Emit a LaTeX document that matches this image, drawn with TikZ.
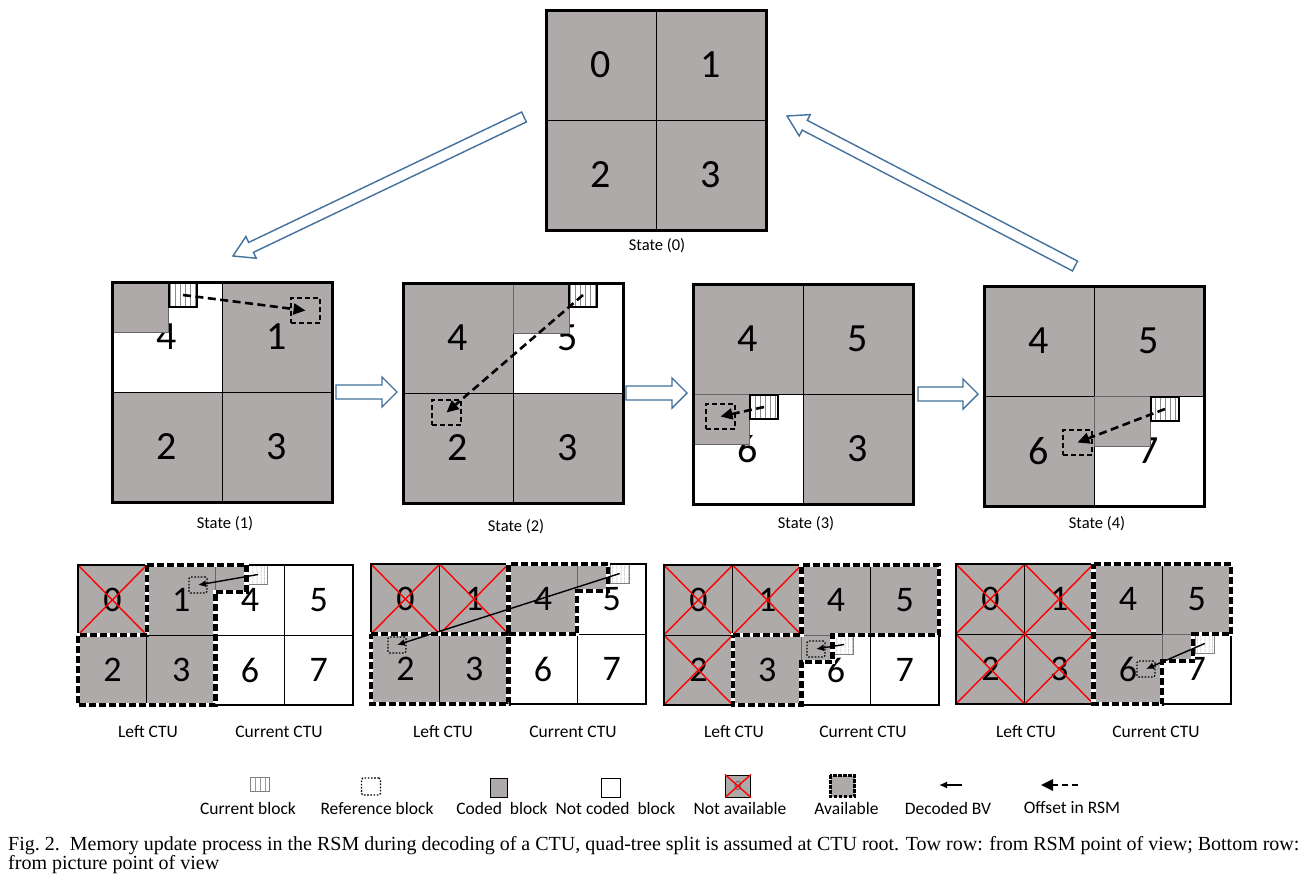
\documentclass[tikz,border=0pt]{standalone}
\usepackage{fontspec}
\setmainfont{Carlito}
\newfontfamily\capfont{Liberation Serif}
\usetikzlibrary{calc,arrows.meta,patterns.meta}
\definecolor{codedgray}{RGB}{174,170,170}
\definecolor{arrowblue}{RGB}{65,113,156}
\newcommand\hollowarrow[6]{%
  \coordinate (#6b) at ($(#1)!#3!(#2)$);
  \draw[hollow] (#1) -- ($(#6b)!#4!90:(#2)$) -- ($(#6b)!#5!90:(#2)$) -- ($(#2)!#5!-90:(#6b)$) -- ($(#2)!#5!90:(#6b)$) -- ($(#6b)!#5!-90:(#2)$) -- ($(#6b)!#4!-90:(#2)$) -- cycle;}
\begin{document}
\begin{tikzpicture}[x=1pt,y=-1pt,
  topcell/.style={draw=black,line width=1pt,minimum width=110pt,minimum height=110pt,anchor=north west,inner sep=0pt,outer sep=0pt,font=\fontsize{40}{40}\selectfont},
  botcell/.style={draw=black,line width=1pt,minimum width=68.75pt,minimum height=70pt,anchor=north west,inner sep=0pt,outer sep=0pt,font=\fontsize{36}{36}\selectfont},
  coded/.style={fill=codedgray},
  uncoded/.style={fill=white},
  graytop/.style={fill=codedgray,draw=black!60,line width=0.8pt,anchor=north west,inner sep=0pt,outer sep=0pt,minimum width=56pt,minimum height=50pt},
  graybot/.style={fill=codedgray,draw=black!60,line width=0.8pt,anchor=north west,inner sep=0pt,outer sep=0pt,minimum width=31pt,minimum height=27pt},
  curtop/.style={draw=black,line width=2.4pt,fill=white,pattern={Lines[angle=90,distance=5pt,line width=0.7pt]},pattern color=black!45,anchor=north west,inner sep=0pt,outer sep=0pt,minimum width=28pt,minimum height=24pt},
  reftop/.style={draw=black,line width=1.5pt,dash pattern=on 5pt off 3pt,anchor=north west,inner sep=0pt,outer sep=0pt,minimum width=29pt,minimum height=25pt},
  curbot/.style={draw=black!50,line width=0.8pt,fill=white,pattern={Lines[angle=90,distance=4pt,line width=0.6pt]},pattern color=black!40,anchor=north west,inner sep=0pt,outer sep=0pt,minimum width=19pt,minimum height=19pt},
  refbot/.style={draw=black,line width=1.3pt,dash pattern=on 1.6pt off 1.6pt,rounded corners=1.5pt,anchor=north west,inner sep=0pt,outer sep=0pt,minimum width=18pt,minimum height=16pt},
  offset/.style={line width=2.6pt,dash pattern=on 8pt off 4.5pt,-{Triangle[length=12pt,width=11pt]}},
  bv/.style={line width=1.4pt,-{Latex[length=8pt,width=7pt]}},
  redx/.style={draw=red,line width=1.4pt},
  outerbox/.style={draw=black,line width=3pt},
  panelbox/.style={draw=black,line width=2.6pt},
  avail/.style={preaction={draw=white,solid,line width=4.4pt},draw=black,line width=4.4pt,dash pattern=on 7pt off 3pt},
  hollow/.style={draw=arrowblue,fill=white,line width=1.4pt,line join=miter},
  lab/.style={font=\fontsize{16.5}{18}\selectfont,inner sep=0pt},
  ctulab/.style={font=\fontsize{17.5}{19}\selectfont,inner sep=0pt},
  legtext/.style={font=\fontsize{17.5}{19}\selectfont,inner sep=0pt},
  captext/.style={font=\capfont\fontsize{20}{22}\selectfont,inner sep=0pt,anchor=base west}
]
\useasboundingbox (0,0) rectangle (1315,878);
\fill[white] (0,0) rectangle (1315,878);

% ---------- State (0)
\node[topcell,coded] (s0q0) at (546,10) {0};
\node[topcell,coded] (s0q1) at (656,10) {1};
\node[topcell,coded] (s0q2) at (546,120) {2};
\node[topcell,coded] (s0q3) at (656,120) {3};
\draw[outerbox] (s0q0.north west) rectangle (s0q3.south east);
\node[lab] (s0lab) at (657,246) {State (0)};

% ---------- State (1)
\node[topcell,uncoded] (s1q0) at (112,282) {4};
\node[topcell,coded] (s1q1) at (222,282) {1};
\node[topcell,coded] (s1q2) at (112,392) {2};
\node[topcell,coded] (s1q3) at (222,392) {3};
\node[graytop] (s1g) at (112,282) {};
\node[curtop] (s1c) at (169,283) {};
\node[reftop] (s1r) at (291,298) {};
\draw[offset] (s1c.center) -- (s1r.center);
\draw[outerbox] (s1q0.north west) rectangle (s1q3.south east);
\node[lab] (s1lab) at (225,524) {State (1)};

% ---------- State (2)
\node[topcell,coded] (s2q0) at (403,283) {4};
\node[topcell,uncoded] (s2q1) at (513,283) {5};
\node[topcell,coded] (s2q2) at (403,393) {2};
\node[topcell,coded] (s2q3) at (513,393) {3};
\node[graytop] (s2g) at (513,283) {};
\node[curtop] (s2c) at (569,283) {};
\node[reftop] (s2r) at (432,400) {};
\draw[offset] (s2c.center) -- (s2r.center);
\draw[outerbox] (s2q0.north west) rectangle (s2q3.south east);
\node[lab] (s2lab) at (516,527) {State (2)};

% ---------- State (3)
\node[topcell,coded] (s3q0) at (693,284) {4};
\node[topcell,coded] (s3q1) at (803,284) {5};
\node[topcell,uncoded] (s3q2) at (693,394) {6};
\node[topcell,coded] (s3q3) at (803,394) {3};
\node[graytop] (s3g) at (693,394) {};
\node[curtop] (s3c) at (750,395) {};
\node[reftop] (s3r) at (706,404) {};
\draw[offset] (s3c.center) -- (s3r.center);
\draw[outerbox] (s3q0.north west) rectangle (s3q3.south east);
\node[lab] (s3lab) at (806,524) {State (3)};

% ---------- State (4)
\node[topcell,coded] (s4q0) at (984,286) {4};
\node[topcell,coded] (s4q1) at (1094,286) {5};
\node[topcell,coded] (s4q2) at (984,396) {6};
\node[topcell,uncoded] (s4q3) at (1094,396) {7};
\node[graytop] (s4g) at (1094,396) {};
\node[curtop] (s4c) at (1151,397) {};
\node[reftop] (s4r) at (1063,430) {};
\draw[offset] (s4c.center) -- (s4r.center);
\draw[outerbox] (s4q0.north west) rectangle (s4q3.south east);
\node[lab] (s4lab) at (1097,524) {State (4)};

% ---------- hollow arrows
\coordinate (ha1tail) at (336,392); \coordinate (ha1tip) at (397,392);
\hollowarrow{ha1tip}{ha1tail}{15pt}{15pt}{7pt}{ha1}
\coordinate (ha2tail) at (626,393); \coordinate (ha2tip) at (687,393);
\hollowarrow{ha2tip}{ha2tail}{15pt}{15pt}{7pt}{ha2}
\coordinate (ha3tail) at (918,394); \coordinate (ha3tip) at (978,394);
\hollowarrow{ha3tip}{ha3tail}{15pt}{15pt}{7pt}{ha3}
\coordinate (da1tail) at (524,117); \coordinate (da1tip) at (233,256);
\hollowarrow{da1tip}{da1tail}{20pt}{12pt}{5.5pt}{da1}
\coordinate (da2tail) at (1075,266); \coordinate (da2tip) at (787,116);
\hollowarrow{da2tip}{da2tail}{20pt}{12pt}{5.5pt}{da2}

% ---------- Panel 1
\begin{scope}[shift={(78,565)}]
\node[botcell,coded] (p1c0) at (0,0) {0};
\node[botcell,coded] (p1c1) at (68.75,0) {1};
\node[botcell,uncoded] (p1c4) at (137.5,0) {4};
\node[botcell,uncoded] (p1c5) at (206.25,0) {5};
\node[botcell,coded] (p1c2) at (0,70) {2};
\node[botcell,coded] (p1c3) at (68.75,70) {3};
\node[botcell,uncoded] (p1c6) at (137.5,70) {6};
\node[botcell,uncoded] (p1c7) at (206.25,70) {7};
\draw[redx] (p1c0.north west) -- (p1c0.south east) (p1c0.north east) -- (p1c0.south west);
\node[graybot] (p1g) at (137.5,0) {};
\node[curbot] (p1k) at (170.5,0) {};
\node[refbot] (p1r) at (111,12) {};
\draw[panelbox] (p1c0.north west) rectangle (p1c7.south east);
\draw[avail] (68.75,0) -- (168.5,0) -- (168.5,27) -- (137.5,27) -- (137.5,140) -- (0,140) -- (0,70) -- (68.75,70) -- cycle;
\draw[bv] (p1k.center) -- (p1r.center);
\node[ctulab] (p1left) at (70,167) {Left CTU};
\node[ctulab] (p1curr) at (201,167) {Current CTU};
\end{scope}

% ---------- Panel 2
\begin{scope}[shift={(371,564)}]
\node[botcell,coded] (p2c0) at (0,0) {0};
\node[botcell,coded] (p2c1) at (68.75,0) {1};
\node[botcell,coded] (p2c4) at (137.5,0) {4};
\node[botcell,uncoded] (p2c5) at (206.25,0) {5};
\node[botcell,coded] (p2c2) at (0,70) {2};
\node[botcell,coded] (p2c3) at (68.75,70) {3};
\node[botcell,uncoded] (p2c6) at (137.5,70) {6};
\node[botcell,uncoded] (p2c7) at (206.25,70) {7};
\draw[redx] (p2c0.north west) -- (p2c0.south east) (p2c0.north east) -- (p2c0.south west);
\draw[redx] (p2c1.north west) -- (p2c1.south east) (p2c1.north east) -- (p2c1.south west);
\node[graybot] (p2g) at (206.25,0) {};
\node[curbot] (p2k) at (239.25,0) {};
\node[refbot] (p2r) at (17,73) {};
\draw[panelbox] (p2c0.north west) rectangle (p2c7.south east);
\draw[avail] (0,70) -- (137.5,70) -- (137.5,0) -- (237.25,0) -- (237.25,27) -- (206.25,27) -- (206.25,70) -- (137.5,70) -- (137.5,140) -- (0,140) -- cycle;
\draw[bv] (p2k.center) -- (p2r.center);
\node[ctulab] (p2left) at (72,168) {Left CTU};
\node[ctulab] (p2curr) at (202,168) {Current CTU};
\end{scope}

% ---------- Panel 3
\begin{scope}[shift={(664,565)}]
\node[botcell,coded] (p3c0) at (0,0) {0};
\node[botcell,coded] (p3c1) at (68.75,0) {1};
\node[botcell,coded] (p3c4) at (137.5,0) {4};
\node[botcell,coded] (p3c5) at (206.25,0) {5};
\node[botcell,coded] (p3c2) at (0,70) {2};
\node[botcell,coded] (p3c3) at (68.75,70) {3};
\node[botcell,uncoded] (p3c6) at (137.5,70) {6};
\node[botcell,uncoded] (p3c7) at (206.25,70) {7};
\draw[redx] (p3c0.north west) -- (p3c0.south east) (p3c0.north east) -- (p3c0.south west);
\draw[redx] (p3c1.north west) -- (p3c1.south east) (p3c1.north east) -- (p3c1.south west);
\draw[redx] (p3c2.north west) -- (p3c2.south east) (p3c2.north east) -- (p3c2.south west);
\node[graybot] (p3g) at (137.5,70) {};
\node[curbot] (p3k) at (170.5,70) {};
\node[refbot] (p3r) at (143,76) {};
\draw[panelbox] (p3c0.north west) rectangle (p3c7.south east);
\draw[avail] (68.75,70) -- (137.5,70) -- (137.5,0) -- (275,0) -- (275,70) -- (168.5,70) -- (168.5,97) -- (137.5,97) -- (137.5,140) -- (68.75,140) -- cycle;
\draw[bv] (p3k.center) -- (p3r.center);
\node[ctulab] (p3left) at (70,167) {Left CTU};
\node[ctulab] (p3curr) at (199,167) {Current CTU};
\end{scope}

% ---------- Panel 4
\begin{scope}[shift={(956,564)}]
\node[botcell,coded] (p4c0) at (0,0) {0};
\node[botcell,coded] (p4c1) at (68.75,0) {1};
\node[botcell,coded] (p4c4) at (137.5,0) {4};
\node[botcell,coded] (p4c5) at (206.25,0) {5};
\node[botcell,coded] (p4c2) at (0,70) {2};
\node[botcell,coded] (p4c3) at (68.75,70) {3};
\node[botcell,coded] (p4c6) at (137.5,70) {6};
\node[botcell,uncoded] (p4c7) at (206.25,70) {7};
\draw[redx] (p4c0.north west) -- (p4c0.south east) (p4c0.north east) -- (p4c0.south west);
\draw[redx] (p4c1.north west) -- (p4c1.south east) (p4c1.north east) -- (p4c1.south west);
\draw[redx] (p4c2.north west) -- (p4c2.south east) (p4c2.north east) -- (p4c2.south west);
\draw[redx] (p4c3.north west) -- (p4c3.south east) (p4c3.north east) -- (p4c3.south west);
\node[graybot] (p4g) at (206.25,70) {};
\node[curbot] (p4k) at (239.25,70) {};
\node[refbot] (p4r) at (181,97) {};
\draw[panelbox] (p4c0.north west) rectangle (p4c7.south east);
\draw[avail] (137.5,0) -- (275,0) -- (275,70) -- (237.25,70) -- (237.25,97) -- (206.25,97) -- (206.25,140) -- (137.5,140) -- cycle;
\draw[bv] (p4k.center) -- (p4r.center);
\node[ctulab] (p4left) at (70,168) {Left CTU};
\node[ctulab] (p4curr) at (200,168) {Current CTU};
\end{scope}

% ---------- Legend
\node[curbot,anchor=center,minimum width=19pt,minimum height=14pt,pattern={Lines[angle=90,distance=5pt,line width=0.6pt]}] (lgcur) at (259.5,784.5) {};
\node[refbot,anchor=center,minimum width=19pt,minimum height=17pt] (lgref) at (371,786.5) {};
\node[draw=black,line width=1pt,fill=codedgray,minimum width=17pt,minimum height=19pt,inner sep=0pt] (lgcoded) at (498.5,787.5) {};
\node[draw=black,line width=1pt,fill=white,minimum width=19pt,minimum height=19pt,inner sep=0pt] (lgnot) at (610.5,787.5) {};
\node[draw=black,line width=1pt,fill=codedgray,minimum width=25pt,minimum height=22pt,inner sep=0pt,font=\fontsize{14}{14}\selectfont,text=black!60] (lgna) at (738,786) {0};
\draw[redx] (lgna.north west) -- (lgna.south east) (lgna.north east) -- (lgna.south west);
\node[fill=codedgray,minimum width=24pt,minimum height=21pt,inner sep=0pt] (lgav) at (842.5,786) {};
\draw[draw=black,line width=2.6pt,dash pattern=on 3.5pt off 1.5pt] (lgav.north west) rectangle (lgav.south east);
\coordinate (lgbv1) at (962,785); \coordinate (lgbv2) at (939,785);
\draw[bv] (lgbv1) -- (lgbv2);
\coordinate (lgoff1) at (1078,785); \coordinate (lgoff2) at (1041,785);
\draw[offset,dash pattern=on 6pt off 4pt] (lgoff1) -- (lgoff2);

\node[legtext] (lt1) at (248,808) {Current block};
\node[legtext] (lt2) at (377,808) {Reference block};
\node[legtext] (lt3) at (502,808) {Coded\ \ block};
\node[legtext] (lt4) at (615.5,808) {Not coded\ \ block};
\node[legtext] (lt5) at (740,808) {Not available};
\node[legtext] (lt6) at (846.5,808) {Available};
\node[legtext] (lt7) at (948,808) {Decoded BV};
\node[legtext] (lt8) at (1072,808) {Offset in RSM};

% ---------- Caption
\node[captext] (cap1) at (8,850) {Fig.~2.\ \ Memory update process in the RSM during decoding of a CTU, quad-tree split is assumed at CTU root. Tow row: from RSM point of view; Bottom row:};
\node[captext] (cap2) at (8,869) {from picture point of view};
\end{tikzpicture}
\end{document}
